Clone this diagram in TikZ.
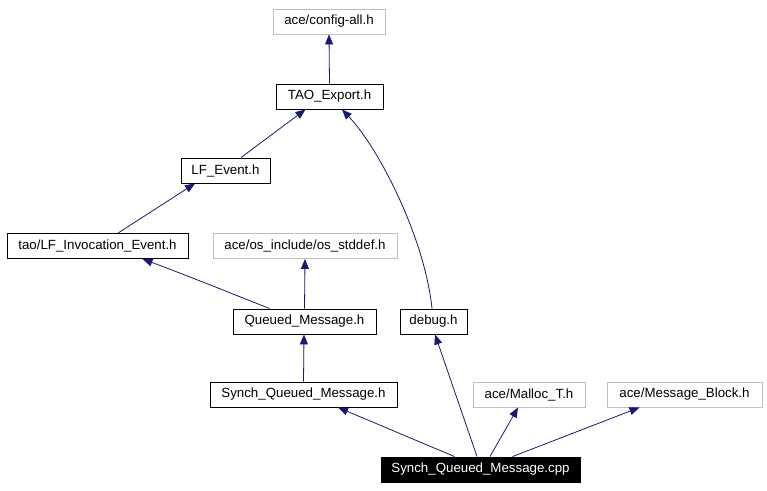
\documentclass[tikz,border=0pt]{standalone}
\usepackage{fontspec}
\setmainfont{Liberation Sans}
\usetikzlibrary{arrows.meta,calc}
\definecolor{navyline}{HTML}{191970}
\definecolor{grayborder}{HTML}{BFBFBF}
\begin{document}
\begin{tikzpicture}[x=1pt,y=-1pt,
  box/.style={draw=black, line width=0.9pt, inner sep=0pt, minimum height=25pt,
    font=\fontsize{13.3}{15}\selectfont, text=black},
  graybox/.style={box, draw=grayborder},
  rootbox/.style={box, fill=black, text=white},
  dep/.style={draw=navyline, line width=0.8pt, -{Triangle[length=10pt,width=8pt]}}]
\useasboundingbox (0,0) rectangle (767,490);
\node[graybox, minimum width=112pt] (cfg) at (329,21.5) {ace/config-all.h};
\node[box, minimum width=107pt] (tao) at (329.5,96.5) {TAO\_Export.h};
\node[box, minimum width=89pt] (lfe) at (225.5,170.5) {LF\_Event.h};
\node[box, minimum width=181pt] (lfi) at (97.5,246) {tao/LF\_Invocation\_Event.h};
\node[graybox, minimum width=184pt] (osd) at (305,246) {ace/os\_include/os\_stddef.h};
\node[box, minimum width=143pt] (qm) at (304.5,321.5) {Queued\_Message.h};
\node[box, minimum width=67pt] (dbg) at (433.5,321.5) {debug.h};
\node[box, minimum width=187pt] (sqh) at (303.5,394.5) {Synch\_Queued\_Message.h};
\node[graybox, minimum width=112pt] (mal) at (529,394.5) {ace/Malloc\_T.h};
\node[graybox, minimum width=155pt] (mb) at (684.5,394.5) {ace/Message\_Block.h};
\node[rootbox, minimum width=199pt] (cpp) at (480.5,469.5) {Synch\_Queued\_Message.cpp};
% edges
\draw[dep] (tao.north) -- (cfg.south);
\draw[dep] ([xshift=15.5pt]lfe.north) -- ([xshift=-24pt]tao.south);
\draw[dep] ([xshift=20.5pt]lfi.north) -- ([xshift=-30.5pt]lfe.south);
\draw[dep] ([xshift=-35pt]qm.north) .. controls ($(qm.north)+(-70,-14)$) and ($(qm.north)+(-120,-34)$) .. ([xshift=45pt]lfi.south);
\draw[dep] (qm.north) -- (osd.south);
\draw[dep] ([xshift=-1.5pt]dbg.north) .. controls ($(dbg.north)+(-8.5,-69)$) and ($(dbg.north)+(-53.5,-159)$) .. ([xshift=12.5pt]tao.south);
\draw[dep] (sqh.north) -- ([xshift=-0.5pt]qm.south);
\draw[dep] ([xshift=-26pt]cpp.north) -- ([xshift=34.5pt]sqh.south);
\draw[dep] ([xshift=-3.5pt]cpp.north) -- ([xshift=1.5pt]dbg.south);
\draw[dep] ([xshift=9.5pt]cpp.north) -- ([xshift=-11pt]mal.south);
\draw[dep] ([xshift=32pt]cpp.north) -- ([xshift=-45pt]mb.south);
\end{tikzpicture}
\end{document}
